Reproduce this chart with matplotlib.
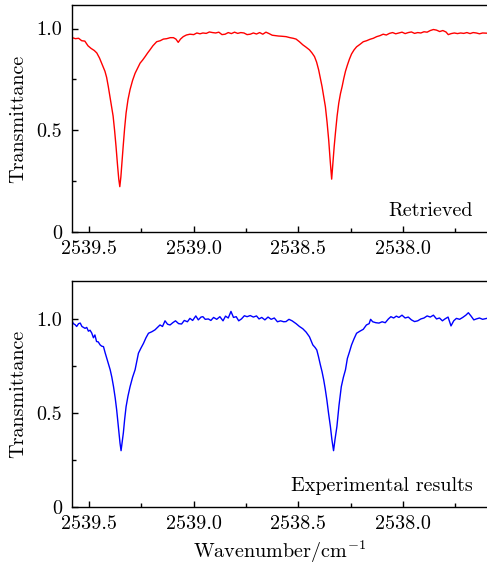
import numpy as np
import matplotlib.pyplot as plt
from matplotlib.ticker import FixedLocator, FixedFormatter, MultipleLocator

plt.rcParams["font.family"] = "serif"
plt.rcParams["font.serif"] = ["cmr10"]
plt.rcParams["mathtext.fontset"] = "cm"
plt.rcParams["axes.formatter.use_mathtext"] = True
plt.rcParams["axes.unicode_minus"] = False

# Retrieved spectrum (wavenumber in cm^-1, transmittance)
wn_ret = [2539.580, 2539.565, 2539.550, 2539.535, 2539.520, 2539.505, 2539.490, 2539.475,
          2539.463, 2539.450, 2539.440, 2539.430, 2539.424, 2539.416, 2539.408, 2539.400,
          2539.392, 2539.385, 2539.378, 2539.371, 2539.364, 2539.358, 2539.353, 2539.348,
          2539.343, 2539.337, 2539.330, 2539.323, 2539.314, 2539.304, 2539.292, 2539.280,
          2539.268, 2539.256, 2539.244, 2539.232, 2539.220, 2539.209, 2539.195, 2539.177,
          2539.160, 2539.145, 2539.129, 2539.112, 2539.097, 2539.085, 2539.074, 2539.063,
          2539.050, 2539.035, 2539.018, 2539.000, 2538.985, 2538.970, 2538.956, 2538.940,
          2538.925, 2538.910, 2538.895, 2538.880, 2538.865, 2538.850, 2538.835, 2538.820,
          2538.805, 2538.790, 2538.775, 2538.760, 2538.745, 2538.730, 2538.715, 2538.700,
          2538.685, 2538.670, 2538.655, 2538.640, 2538.625, 2538.610, 2538.595, 2538.580,
          2538.559, 2538.540, 2538.525, 2538.511, 2538.495, 2538.479, 2538.463, 2538.447,
          2538.435, 2538.423, 2538.413, 2538.403, 2538.395, 2538.387, 2538.379, 2538.371,
          2538.363, 2538.355, 2538.348, 2538.341, 2538.335, 2538.329, 2538.323, 2538.315,
          2538.307, 2538.299, 2538.291, 2538.283, 2538.275, 2538.266, 2538.256, 2538.246,
          2538.234, 2538.222, 2538.206, 2538.190, 2538.174, 2538.158, 2538.142, 2538.126,
          2538.110, 2538.095, 2538.080, 2538.065, 2538.050, 2538.035, 2538.020, 2538.005,
          2537.990, 2537.975, 2537.960, 2537.945, 2537.930, 2537.915, 2537.900, 2537.885,
          2537.870, 2537.855, 2537.840, 2537.825, 2537.810, 2537.795, 2537.784, 2537.770,
          2537.755, 2537.740, 2537.725, 2537.710, 2537.695, 2537.680, 2537.665, 2537.650,
          2537.635, 2537.620, 2537.600]
tr_ret = [0.955, 0.950, 0.952, 0.940, 0.938, 0.915, 0.902, 0.892,
          0.880, 0.855, 0.830, 0.805, 0.790, 0.760, 0.715, 0.665,
          0.616, 0.570, 0.500, 0.420, 0.330, 0.260, 0.223, 0.270,
          0.340, 0.420, 0.510, 0.585, 0.650, 0.700, 0.745, 0.780,
          0.805, 0.830, 0.845, 0.862, 0.880, 0.895, 0.915, 0.935,
          0.940, 0.948, 0.950, 0.955, 0.955, 0.948, 0.932, 0.948,
          0.960, 0.968, 0.972, 0.970, 0.978, 0.974, 0.978, 0.976,
          0.983, 0.980, 0.978, 0.982, 0.970, 0.972, 0.980, 0.975,
          0.982, 0.976, 0.980, 0.978, 0.970, 0.972, 0.978, 0.973,
          0.980, 0.972, 0.982, 0.975, 0.967, 0.965, 0.963, 0.962,
          0.960, 0.955, 0.952, 0.948, 0.935, 0.920, 0.908, 0.895,
          0.880, 0.862, 0.835, 0.796, 0.755, 0.715, 0.665, 0.616,
          0.540, 0.450, 0.350, 0.260, 0.340, 0.420, 0.487, 0.570,
          0.634, 0.680, 0.715, 0.755, 0.790, 0.820, 0.850, 0.875,
          0.895, 0.910, 0.922, 0.935, 0.940, 0.947, 0.952, 0.960,
          0.965, 0.972, 0.968, 0.976, 0.980, 0.974, 0.978, 0.982,
          0.975, 0.980, 0.983, 0.976, 0.980, 0.978, 0.984, 0.982,
          0.990, 0.995, 0.992, 0.985, 0.990, 0.983, 0.970, 0.975,
          0.978, 0.975, 0.978, 0.976, 0.980, 0.975, 0.980, 0.978,
          0.974, 0.978, 0.977]

# Measured spectrum
wn_exp = [2539.583, 2539.575, 2539.567, 2539.559, 2539.550, 2539.542, 2539.534, 2539.526,
          2539.519, 2539.511, 2539.503, 2539.495, 2539.487, 2539.479, 2539.472, 2539.464,
          2539.456, 2539.447, 2539.439, 2539.431, 2539.423, 2539.415, 2539.407, 2539.399,
          2539.391, 2539.383, 2539.375, 2539.368, 2539.362, 2539.357, 2539.352, 2539.347,
          2539.342, 2539.336, 2539.330, 2539.323, 2539.314, 2539.304, 2539.292, 2539.280,
          2539.272, 2539.264, 2539.252, 2539.240, 2539.228, 2539.216, 2539.200, 2539.185,
          2539.173, 2539.161, 2539.149, 2539.137, 2539.125, 2539.113, 2539.100, 2539.087,
          2539.072, 2539.058, 2539.045, 2539.030, 2539.018, 2539.005, 2538.990, 2538.978,
          2538.965, 2538.956, 2538.945, 2538.930, 2538.918, 2538.905, 2538.890, 2538.875,
          2538.860, 2538.848, 2538.835, 2538.822, 2538.810, 2538.797, 2538.785, 2538.772,
          2538.758, 2538.745, 2538.730, 2538.715, 2538.700, 2538.688, 2538.675, 2538.660,
          2538.645, 2538.630, 2538.615, 2538.600, 2538.585, 2538.570, 2538.559, 2538.545,
          2538.530, 2538.511, 2538.495, 2538.479, 2538.463, 2538.447, 2538.431, 2538.420,
          2538.412, 2538.404, 2538.395, 2538.387, 2538.379, 2538.372, 2538.364, 2538.356,
          2538.347, 2538.340, 2538.332, 2538.325, 2538.316, 2538.306, 2538.295, 2538.285,
          2538.275, 2538.266, 2538.256, 2538.246, 2538.234, 2538.222, 2538.206, 2538.190,
          2538.175, 2538.162, 2538.155, 2538.145, 2538.130, 2538.115, 2538.100, 2538.085,
          2538.070, 2538.058, 2538.045, 2538.032, 2538.020, 2538.005, 2537.990, 2537.975,
          2537.960, 2537.945, 2537.930, 2537.915, 2537.900, 2537.885, 2537.870, 2537.855,
          2537.840, 2537.826, 2537.812, 2537.800, 2537.785, 2537.771, 2537.758, 2537.745,
          2537.730, 2537.715, 2537.700, 2537.688, 2537.675, 2537.662, 2537.650, 2537.635,
          2537.620, 2537.600]
tr_exp = [0.995, 0.975, 0.970, 0.960, 0.975, 0.978, 0.960, 0.955,
          0.950, 0.955, 0.935, 0.940, 0.925, 0.900, 0.915, 0.880,
          0.878, 0.862, 0.855, 0.853, 0.820, 0.790, 0.760, 0.730,
          0.690, 0.640, 0.580, 0.517, 0.450, 0.390, 0.340, 0.300,
          0.345, 0.395, 0.465, 0.534, 0.590, 0.640, 0.690, 0.730,
          0.775, 0.818, 0.845, 0.870, 0.900, 0.924, 0.932, 0.942,
          0.955, 0.968, 0.960, 0.990, 0.972, 0.968, 0.980, 0.990,
          0.975, 0.973, 0.992, 0.985, 1.003, 0.992, 1.016, 0.995,
          1.010, 1.012, 0.998, 1.000, 0.992, 1.008, 0.998, 1.012,
          0.990, 1.015, 1.005, 1.040, 1.008, 1.012, 0.990, 1.000,
          1.017, 1.012, 1.018, 1.010, 1.016, 1.000, 1.008, 0.995,
          1.010, 0.998, 1.005, 0.985, 0.990, 0.985, 0.986, 0.998,
          0.990, 0.975, 0.960, 0.948, 0.930, 0.905, 0.862, 0.848,
          0.835, 0.800, 0.756, 0.720, 0.676, 0.630, 0.570, 0.500,
          0.428, 0.360, 0.300, 0.360, 0.428, 0.540, 0.640, 0.690,
          0.730, 0.790, 0.825, 0.862, 0.895, 0.924, 0.935, 0.945,
          0.968, 0.975, 0.998, 0.985, 0.980, 0.978, 0.985, 0.980,
          1.000, 1.012, 1.005, 1.015, 1.008, 1.020, 1.005, 1.010,
          0.995, 0.986, 0.990, 1.000, 1.005, 1.016, 1.010, 1.020,
          1.000, 1.005, 0.990, 1.000, 1.010, 0.963, 0.990, 1.003,
          0.998, 1.008, 1.020, 1.033, 1.015, 0.995, 1.000, 1.005,
          0.998, 1.003]

x_ticks = [2539.5, 2539.0, 2538.5, 2538.0]
x_labels = ["2539.5", "2539.0", "2538.5", "2538.0"]
y_ticks = [0, 0.5, 1.0]
y_labels = ["0", "0.5", "1.0"]

fig = plt.figure(figsize=(4.87, 5.66), dpi=100)
ax1 = fig.add_axes([0.148, 0.590, 0.852, 0.401])
ax2 = fig.add_axes([0.148, 0.104, 0.852, 0.399])

panels = [
    (ax1, wn_ret, tr_ret, "red", 1.115, "Retrieved"),
    (ax2, wn_exp, tr_exp, "blue", 1.2, "Experimental results"),
]

fs = 14.5

for ax, wn, tr, col, ytop, name in panels:
    ax.plot(wn, tr, color=col, lw=1.0)
    ax.set_xlim(2539.581, 2537.599)
    ax.set_ylim(0, ytop)
    ax.xaxis.set_major_locator(FixedLocator(x_ticks))
    ax.xaxis.set_major_formatter(FixedFormatter(x_labels))
    ax.xaxis.set_minor_locator(MultipleLocator(0.25))
    ax.yaxis.set_major_locator(FixedLocator(y_ticks))
    ax.yaxis.set_major_formatter(FixedFormatter(y_labels))
    ax.yaxis.set_minor_locator(MultipleLocator(0.25))
    ax.tick_params(which="both", direction="in", top=False, right=False,
                   labelsize=fs, width=1.0)
    ax.tick_params(which="major", length=4)
    ax.tick_params(axis="x", which="major", pad=6)
    ax.tick_params(axis="y", which="major", pad=7)
    ax.tick_params(which="minor", length=3)
    ax.spines["right"].set_visible(False)
    for s in ("left", "bottom", "top"):
        ax.spines[s].set_linewidth(1.0)
    ax.set_ylabel("Transmittance", fontsize=fs, labelpad=7)
    ax.text(0.965, 0.055, name, transform=ax.transAxes, ha="right", va="bottom",
            fontsize=fs)

ax2.set_xlabel("Wavenumber/cm$^{-1}$", fontsize=fs, labelpad=4)

fig.savefig("out.png", dpi=100)
